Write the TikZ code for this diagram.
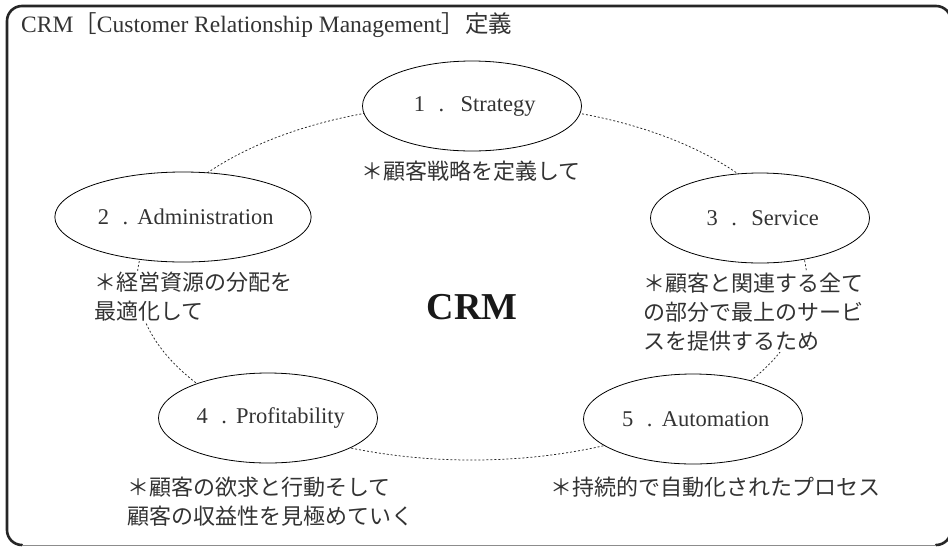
\documentclass[tikz,border=0pt]{standalone}
\usepackage{fontspec}
\setmainfont{Liberation Serif}
\newfontfamily\cjk{Noto Sans CJK JP}
\usetikzlibrary{shapes.geometric}
\definecolor{ink}{HTML}{333333}
\newcommand{\numlab}[3][1pt]{\makebox[22pt]{#2}\makebox[22pt]{.}\hspace{#1}#3}
\begin{document}
\begin{tikzpicture}[x=1pt,y=-1pt,
  stage/.style={ellipse, draw=black, line width=0.8pt, fill=white, minimum width=219pt, minimum height=90pt, inner sep=0pt, text=ink, font=\fontsize{22.5}{26}\selectfont},
  note/.style={fill=white, inner sep=1pt, align=left, text=ink, font=\cjk\fontsize{22}{29}\selectfont},
  ring/.style={line width=0.75pt, dash pattern=on 2pt off 2pt, draw=black!85},
]
\useasboundingbox (0,0) rectangle (948,547);
% frame
\draw[line width=2.6pt, draw=black!85, line cap=round]
  (22,545) arc[start angle=90, end angle=180, radius=15] -- (7,21)
  arc[start angle=180, end angle=270, radius=15] -- (936,6)
  arc[start angle=270, end angle=360, radius=15] -- (951,530)
  arc[start angle=0, end angle=90, radius=15];
\draw[line width=1pt, draw=black!45] (22,545) -- (936,545);
% title
\node[anchor=west, inner sep=0pt, text=ink, font=\fontsize{23.5}{26}\selectfont] (title) at (21,25)
  {CRM{\cjk ［}Customer Relationship Management{\cjk ］定義}};
% ring
\draw[ring] (472,282) ellipse [x radius=335, y radius=178];
% stages
\node[stage] (s1) at (472,106) {\numlab[8pt]{1}{Strategy}};
\node[stage] (s2) at (183,217) {\numlab{2}{Administration}};
\node[stage] (s3) at (760,218) {\numlab[6pt]{3}{Service}};
\node[stage] (s4) at (268,418) {\numlab{4}{Profitability}};
\node[stage] (s5) at (693,419) {\numlab{5}{Automation}};
% notes
\node[note] (n1) at (471,171) {＊顧客戦略を定義して};
\node[note, anchor=west] (n2) at (93,297) {＊経営資源の分配を\\最適化して};
\node[note, anchor=west] (n3) at (642,312) {＊顧客と関連する全て\\の部分で最上のサービ\\スを提供するため};
\node[note, anchor=west] (n4) at (126,502) {＊顧客の欲求と行動そして\\顧客の収益性を見極めていく};
\node[note, anchor=west] (n5) at (549,487) {＊持続的で自動化されたプロセス};
% centre
\node[inner sep=0pt, text=black!90, font=\bfseries\fontsize{38}{40}\selectfont] (crm) at (472,307) {CRM};
\end{tikzpicture}
\end{document}
